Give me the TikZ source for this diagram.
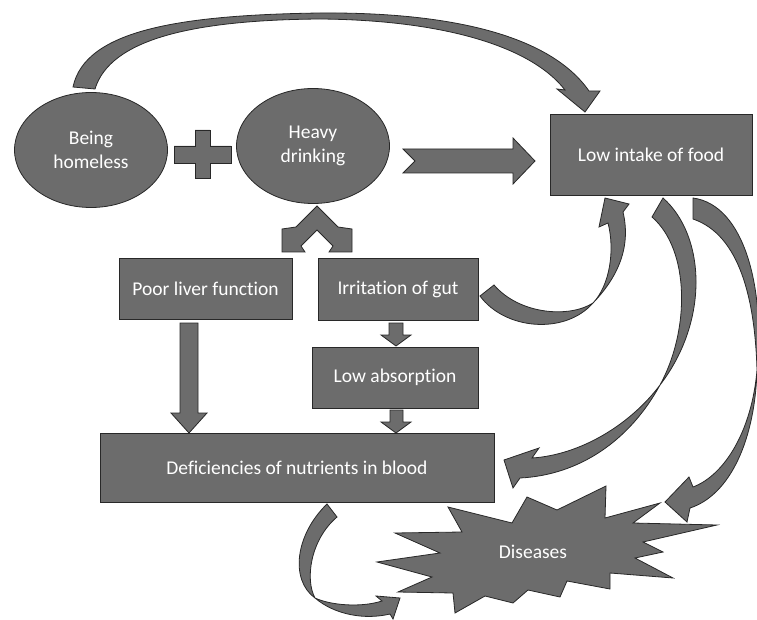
\documentclass[tikz,border=0pt]{standalone}
\usepackage{fontspec}
\setmainfont{Carlito}[Ligatures=NoCommon]
\usetikzlibrary{shapes.geometric}

\definecolor{shapegray}{RGB}{108,108,108}
\definecolor{edgegray}{RGB}{40,40,40}

\tikzset{
  shapefill/.style={draw=edgegray, fill=shapegray, line width=.8pt, line join=miter},
  box/.style={shapefill, rectangle, text=white, align=center, inner sep=0pt},
  blob/.style={shapefill, ellipse, text=white, align=center, inner sep=0pt, minimum width=153pt, minimum height=115pt},
}

\begin{document}
\begin{tikzpicture}[x=1pt,y=-1pt,font=\fontsize{19.5}{23.5}\selectfont]

\useasboundingbox (0,0) rectangle (757,620);

%-----------------------------------------------------
% causes
\node[blob] (homeless) at (91,150) {Being\\homeless};
\node[blob] (drinking) at (313,146) {Heavy\\drinking};

\draw[shapefill] (195,130) -- (210,130) -- (210,146) -- (231,146) -- (231,163) -- (210,163) -- (210,178) -- (195,178) -- (195,163) -- (174,163) -- (174,146) -- (195,146) -- cycle;

\draw[shapefill] (73,87) .. controls (85,30) and (180,15) .. (320,13) .. controls (450,12) and (550,35) .. (589,91) -- (600,91) -- (585,112) -- (557,89) -- (565,90) .. controls (530,45) and (440,20) .. (320,19) .. controls (190,20) and (110,40) .. (95,89) -- cycle;

\draw[shapefill] (403,149) -- (513,149) -- (513,138) -- (535,161) -- (513,184) -- (513,173) -- (403,173) -- (415,161) -- cycle;

\node[box, minimum width=202pt, minimum height=81pt] (intake) at (651,154.5) {Low intake of food};

%-----------------------------------------------------
% effects of drinking
\draw[shapefill] (317,206) -- (296,227) -- (282,229) -- (282,252) -- (305,252) -- (301,246) -- (317,230) -- (333,246) -- (329,252) -- (352,252) -- (352,229) -- (338,227) -- cycle;

\node[box, minimum width=173pt, minimum height=61pt] (liver) at (205.5,288.5) {Poor liver function};
\node[box, minimum width=160pt, minimum height=62pt] (gut) at (398,289) {Irritation of gut};
\node[box, minimum width=166pt, minimum height=61pt] (absorb) at (395,377.5) {Low absorption};
\node[box, minimum width=394pt, minimum height=69pt] (deficit) at (297,467.5) {Deficiencies of nutrients in blood};

\draw[shapefill] (180,323) -- (198,323) -- (198,413) -- (207,413) -- (189,433) -- (171,413) -- (180,413) -- cycle;
\draw[shapefill] (389,323) -- (403,323) -- (403,335) -- (411,335) -- (396,346) -- (381,335) -- (389,335) -- cycle;
\draw[shapefill] (390,410) -- (403,410) -- (403,422) -- (411,422) -- (396,433) -- (381,422) -- (390,422) -- cycle;

%-----------------------------------------------------
% diseases
\draw[shapefill] (448,507) -- (512,523) -- (527,497) -- (557,510) -- (606,486) -- (605,518) -- (660,503) -- (633,523) -- (717,525) -- (643,542) -- (663,552) -- (635,558) -- (673,578) -- (610,573) -- (610,589) -- (567,581) -- (560,597) -- (528,590) -- (513,603) -- (485,596) -- (455,613) -- (453,593) -- (398,592) -- (432,577) -- (377,562) -- (440,553) -- (395,533) -- (462,532) -- cycle;
\node[text=white] (diseases) at (533,552) {Diseases};

%-----------------------------------------------------
% curved arrows
\draw[shapefill] (480,296) .. controls (505,330) and (565,335) .. (593,303) .. controls (615,280) and (632,250) .. (623,212) -- (629,204) -- (605,198) -- (599,227) -- (608,223) .. controls (615,250) and (610,285) .. (593,303) .. controls (570,318) and (520,315) .. (494,285) -- cycle;

\draw[shapefill] (663,198) .. controls (705,235) and (710,320) .. (660,385) .. controls (630,425) and (580,455) .. (532,458) -- (539,448) -- (504,460) -- (513,488) -- (520,478) .. controls (580,475) and (630,440) .. (660,385) .. controls (690,330) and (690,250) .. (652,217) -- cycle;

\draw[shapefill] (693,198) .. controls (745,205) and (765,290) .. (757,370) .. controls (752,430) and (725,475) .. (693,487) -- (689,477) -- (665,502) -- (687,522) -- (690,508) .. controls (730,495) and (755,440) .. (757,370) .. controls (755,300) and (740,235) .. (693,219) -- cycle;

\draw[shapefill] (327,504) .. controls (295,535) and (290,580) .. (315,598) .. controls (335,615) and (365,620) .. (390,614) -- (393,619) -- (400,598) -- (376,596) -- (382,601) .. controls (360,608) and (330,605) .. (315,598) .. controls (305,580) and (310,540) .. (337,517) -- cycle;

\end{tikzpicture}
\end{document}
